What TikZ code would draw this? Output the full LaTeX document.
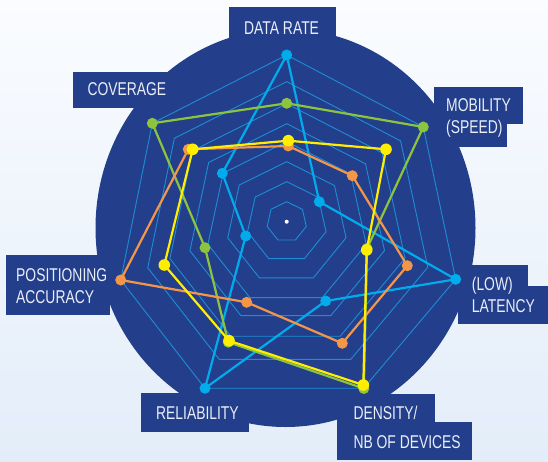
\documentclass[tikz,border=0pt]{standalone}
\usepackage{fontspec}
\setmainfont{Liberation Sans}[FakeStretch=0.75]
\usetikzlibrary{calc}
\definecolor{navy}{RGB}{35,63,140}
\definecolor{ringc}{RGB}{30,140,210}
\definecolor{cyanc}{RGB}{0,172,236}
\definecolor{greenc}{RGB}{141,196,62}
\definecolor{orangec}{RGB}{244,150,72}
\definecolor{yellowc}{RGB}{255,238,0}
\definecolor{labtxt}{RGB}{233,238,247}
\definecolor{bgtop}{RGB}{250,252,255}
\definecolor{bgbot}{RGB}{227,237,249}
\begin{document}
\begin{tikzpicture}[x=1pt,y=-1pt,
  ring/.style={draw=ringc,line width=0.9pt,line join=miter},
  series/.style={draw=#1,line width=2.2pt,line join=round},
  lab/.style={anchor=base west,inner sep=0pt,text=labtxt,font=\fontsize{18.5}{21}\selectfont},
  box/.style={fill=navy}]
\useasboundingbox (0,0) rectangle (548,462);
\shade[top color=bgtop,bottom color=bgbot] (0,0) rectangle (548,462);
% disc
\fill[navy] (285.5,228) ellipse [x radius=190,y radius=199];
% label boxes
\fill[box] (229.3,6.7) rectangle (336,46);
\fill[box] (72.7,71.7) rectangle (173.3,108);
\fill[box] (434,86.7) rectangle (523.3,124);
\fill[box] (434,123) rectangle (506.7,146.7);
\fill[box] (458.3,265) rectangle (528.3,287);
\fill[box] (458.3,286) rectangle (549,324);
\fill[box] (337.3,394) rectangle (435,422);
\fill[box] (337.3,421.5) rectangle (471.7,460);
\fill[box] (140.7,393.3) rectangle (249.3,431.7);
\fill[box] (6,255) rectangle (110,315);
% labels
\node[lab] (tdr) at (244,35) {DATA RATE};
\node[lab] (tcov) at (87.3,96) {COVERAGE};
\node[lab] (tmob1) at (446,111.7) {MOBILITY};
\node[lab] (tmob2) at (446,133.5) {(SPEED)};
\node[lab] (tlat1) at (471.7,290.3) {(LOW)};
\node[lab] (tlat2) at (471.7,312.3) {LATENCY};
\node[lab] (tden1) at (353.3,419.3) {DENSITY/};
\node[lab] (tden2) at (353.3,448.3) {NB OF DEVICES};
\node[lab] (trel) at (156,419) {RELIABILITY};
\node[lab] (tpos1) at (16,281.7) {POSITIONING};
\node[lab] (tpos2) at (16,303.3) {ACCURACY};
% grid
\coordinate (C) at (286.7,221.7);
\coordinate (r0) at (0,-166.7);
\coordinate (r1) at (130.3,-103.9);
\coordinate (r2) at (162.5,37.1);
\coordinate (r3) at (72.3,150.2);
\coordinate (r4) at (-72.3,150.2);
\coordinate (r5) at (-162.5,37.1);
\coordinate (r6) at (-130.3,-103.9);
\coordinate (o0) at (0,-166.7);
\coordinate (o1) at (136.6,-94.7);
\coordinate (o2) at (169,57.6);
\coordinate (o3) at (77,166.5);
\coordinate (o4) at (-81.7,166.6);
\coordinate (o5) at (-166,58.3);
\coordinate (o6) at (-134.4,-98.4);
\foreach \s in {0.12,0.24,0.36,0.48,0.588,0.708,0.84,1}{
  \pgfmathsetmacro\rA{\s*(1-\s)}
  \pgfmathsetmacro\rB{\s*\s}
  \draw[ring] ($(C)+\rA*(r0)+\rB*(o0)$) -- ($(C)+\rA*(r1)+\rB*(o1)$)
   -- ($(C)+\rA*(r2)+\rB*(o2)$) -- ($(C)+\rA*(r3)+\rB*(o3)$)
   -- ($(C)+\rA*(r4)+\rB*(o4)$) -- ($(C)+\rA*(r5)+\rB*(o5)$)
   -- ($(C)+\rA*(r6)+\rB*(o6)$) -- cycle;
}
% cyan series
\coordinate (c0) at (286.7,55);
\coordinate (c1) at (319.3,201.7);
\coordinate (c2) at (455.7,279.3);
\coordinate (c3) at (325.7,301);
\coordinate (c4) at (205,388.3);
\coordinate (c5) at (245.7,236);
\coordinate (c6) at (222.3,173.3);
\draw[series=cyanc] (c0)--(c1)--(c2)--(c3)--(c4)--(c5)--(c6)--cycle;
\foreach \p in {c0,c1,c2,c3,c4,c5,c6} \fill[cyanc] (\p) circle (5.5);
% green series
\coordinate (g0) at (286.7,103.3);
\coordinate (g1) at (423.3,127);
\coordinate (g2) at (367,248.5);
\coordinate (g3) at (363.8,388.5);
\coordinate (g4) at (228.3,342.2);
\coordinate (g5) at (205,247.7);
\coordinate (g6) at (152.3,123.3);
\draw[series=greenc] (g0)--(g1)--(g2)--(g3)--(g4)--(g5)--(g6)--cycle;
\foreach \p in {g0,g1,g2,g3,g4,g5,g6} \fill[greenc] (\p) circle (5.5);
% orange series
\coordinate (q0) at (288.3,146);
\coordinate (q1) at (352.3,175.7);
\coordinate (q2) at (407.3,265.7);
\coordinate (q3) at (342.3,343.3);
\coordinate (q4) at (246.7,302.3);
\coordinate (q5) at (120.7,280);
\coordinate (q6) at (188.3,149.3);
\draw[series=orangec] (q0)--(q1)--(q2)--(q3)--(q4)--(q5)--(q6)--cycle;
\foreach \p in {q0,q1,q2,q3,q4,q5,q6} \fill[orangec] (\p) circle (5.5);
% yellow series
\coordinate (y0) at (288.3,140.7);
\coordinate (y1) at (386,149.3);
\coordinate (y2) at (366.7,250);
\coordinate (y3) at (363.3,385);
\coordinate (y4) at (229,340.7);
\coordinate (y5) at (164.3,265);
\coordinate (y6) at (192.7,149.3);
\draw[series=yellowc] (y0)--(y1)--(y2)--(y3)--(y4)--(y5)--(y6)--cycle;
\foreach \p in {y0,y1,y2,y3,y4,y5,y6} \fill[yellowc] (\p) circle (5.8);
% centre dot
\fill[white] (C) circle (2);
\end{tikzpicture}
\end{document}
